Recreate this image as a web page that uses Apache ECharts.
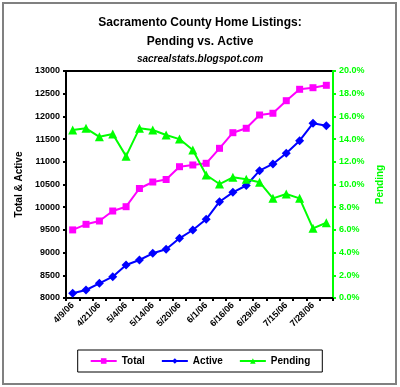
<!DOCTYPE html>
<html><head><meta charset="utf-8">
<script src="https://cdn.jsdelivr.net/npm/echarts@6/dist/echarts.min.js"></script>
<style>html,body{margin:0;padding:0;background:#fff}#c{width:400px;height:387px}</style>
</head><body><div id="c"></div>
<script>
const categories = ['4/9/06','4/14/06','4/21/06','4/28/06','5/4/06','5/9/06','5/14/06','5/17/06','5/20/06','5/25/06','6/1/06','6/8/06','6/16/06','6/22/06','6/29/06','7/7/06','7/15/06','7/21/06','7/28/06','8/4/06'];
const totalValues = [9500,9623,9696,9916,10011,10412,10555,10610,10892,10930,10967,11297,11641,11738,12031,12069,12346,12597,12632,12685];
const activeValues = [8104,8176,8324,8469,8727,8837,8985,9073,9315,9498,9733,10121,10328,10478,10804,10952,11187,11465,11848,11795];
const pendingValues = [14.8,14.95,14.2,14.45,12.5,14.95,14.8,14.36,14.0,13.04,10.84,10.04,10.63,10.46,10.2,8.78,9.16,8.78,6.14,6.63];
const leftTicks = {min:8000,max:13000,interval:500};
const rightTicks = {min:0,max:20,interval:2};

const chart = echarts.init(document.getElementById('c'));
const F = 'Liberation Sans, Arial, sans-serif';
chart.setOption({
  animation:false,
  graphic:[{type:'rect',shape:{x:3,y:3,width:393,height:381},style:{fill:'none',stroke:'#808080',lineWidth:2}}],
  title:[
    {text:'Sacramento County Home Listings:\nPending vs. Active',left:'center',top:8,textStyle:{fontFamily:F,fontSize:12,fontWeight:'bold',color:'#000',lineHeight:19}},
    {text:'sacrealstats.blogspot.com',left:'center',top:49,textStyle:{fontFamily:F,fontSize:10,fontWeight:'bold',fontStyle:'italic',color:'#000'}}
  ],
  legend:{bottom:15,left:'center',itemGap:16,itemWidth:26,itemHeight:7,padding:[6,12,6,12],borderColor:'#000',borderWidth:1,
    textStyle:{fontFamily:F,fontSize:10,fontWeight:'bold',color:'#000'},
    data:['Total','Active','Pending']},
  grid:{left:66,right:67,top:71,bottom:89,show:true,borderColor:'#000',borderWidth:2},
  xAxis:{type:'category',data:categories,boundaryGap:true,
    axisLine:{lineStyle:{color:'#000',width:2}},
    axisTick:{show:true,interval:0,length:3,lineStyle:{color:'#000',width:2}},
    axisLabel:{interval:1,rotate:45,fontFamily:F,fontSize:9,fontWeight:'bold',color:'#000',margin:6}},
  yAxis:[
    {type:'value',min:leftTicks.min,max:leftTicks.max,interval:leftTicks.interval,name:'Total & Active',nameLocation:'middle',nameGap:38,
     nameTextStyle:{fontFamily:F,fontSize:10,fontWeight:'bold',color:'#000'},
     splitLine:{show:false},axisLine:{show:true,lineStyle:{color:'#000',width:2}},
     axisTick:{show:true,length:3,lineStyle:{color:'#000',width:2}},
     axisLabel:{fontFamily:F,fontSize:9,fontWeight:'bold',color:'#000',margin:6,formatter:v=>String(v)}},
    {type:'value',min:rightTicks.min,max:rightTicks.max,interval:rightTicks.interval,position:'right',name:'Pending',nameLocation:'middle',nameGap:38,
     nameTextStyle:{fontFamily:F,fontSize:10,fontWeight:'bold',color:'#00ff00'},
     splitLine:{show:false},axisLine:{show:true,lineStyle:{color:'#00ff00',width:2}},
     axisTick:{show:true,length:3,lineStyle:{color:'#00ff00',width:2}},
     axisLabel:{fontFamily:F,fontSize:9,fontWeight:'bold',color:'#00ff00',margin:6,formatter:v=>v.toFixed(1)+'%'}}
  ],
  series:[
    {name:'Total',type:'line',data:totalValues,yAxisIndex:0,showAllSymbol:true,symbol:'rect',symbolSize:7,lineStyle:{color:'#ff00ff',width:2},itemStyle:{color:'#ff00ff'}},
    {name:'Active',type:'line',data:activeValues,yAxisIndex:0,showAllSymbol:true,symbol:'diamond',symbolSize:9,lineStyle:{color:'#0000ff',width:2},itemStyle:{color:'#0000ff'}},
    {name:'Pending',type:'line',data:pendingValues,yAxisIndex:1,showAllSymbol:true,symbol:'triangle',symbolSize:9,lineStyle:{color:'#00ff00',width:2},itemStyle:{color:'#00ff00'}}
  ]
});
</script></body></html>
